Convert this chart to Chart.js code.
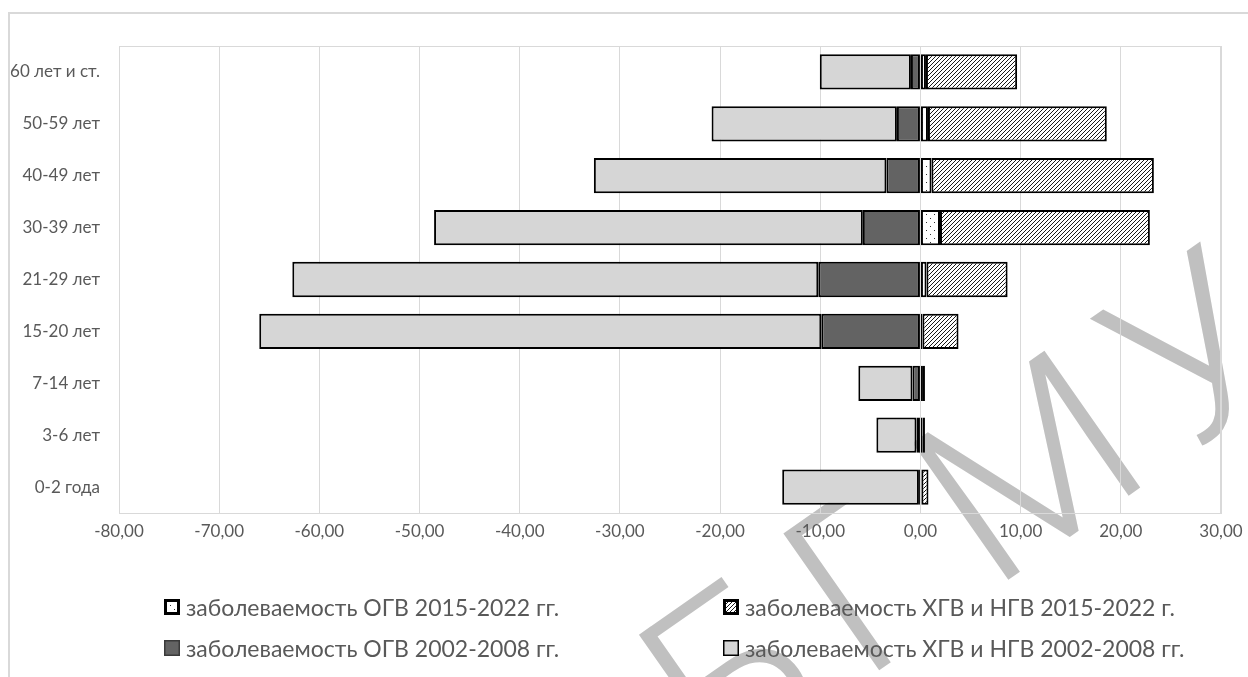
<!DOCTYPE html>
<html lang="ru">
<head>
<meta charset="utf-8">
<script src="https://cdn.jsdelivr.net/npm/chart.js@4.4.1/dist/chart.umd.min.js"></script>
<style>
  html, body { margin: 0; padding: 0; background: #fff; }
  #wrap { position: relative; width: 1248px; height: 677px; overflow: hidden; font-family: Lato, "Open Sans", sans-serif; }
  #frame { position: absolute; left: 8px; top: 12px; width: 1300px; height: 720px; border: 2px solid #d9d9d9; box-sizing: border-box; z-index: 0; }
  #stamp { position: absolute; left: 975px; top: 505px; transform: translate(-50%, -50%) rotate(-35deg);
           font: 300 235px Roboto, "DejaVu Sans", sans-serif; letter-spacing: 28px; color: #c0c0c0; white-space: nowrap; line-height: 1; z-index: 1; }
  #chart { position: absolute; left: 0; top: 0; z-index: 2; }
  .legend-item { position: absolute; display: flex; align-items: center; font-size: 23px; color: #595959; z-index: 3; white-space: nowrap; }
  .legend-item canvas { margin-right: 6px; }
</style>
</head>
<body>
<div id="wrap">
  <div id="frame"></div>
  <div id="stamp">БГМУ</div>
  <canvas id="chart" width="1248" height="677"></canvas>
  <div id="legend"></div>
</div>
<script>
"use strict";

// age groups, top to bottom
const ageGroups = ["60 лет и ст.", "50-59 лет", "40-49 лет", "30-39 лет", "21-29 лет", "15-20 лет", "7-14 лет", "3-6 лет", "0-2 года"];

// 2015-2022 (right side)
const acute2015 = [0.55, 0.75, 1.1, 1.95, 0.6, 0.2, 0.25, 0.2, 0.1];
const chronic2015 = [9.1, 17.85, 22.2, 20.95, 8.1, 3.6, 0.2, 0.25, 0.7];

// 2002-2008 (left side, negative)
const acute2002 = [-0.95, -2.35, -3.4, -5.75, -10.2, -9.9, -0.8, -0.4, -0.15];
const chronic2002 = [-9.1, -18.5, -29.2, -42.8, -52.5, -56.1, -5.4, -4.0, -13.65];

const seriesLabels = [
  "заболеваемость ОГВ 2015-2022 гг.",
  "заболеваемость ХГВ и НГВ 2015-2022 г.",
  "заболеваемость ОГВ 2002-2008 гг.",
  "заболеваемость ХГВ и НГВ 2002-2008 гг.",
];

const xMin = -80;
const xMax = 30;
const xStep = 10;

function makeTile(size, draw) {
  const c = document.createElement("canvas");
  c.width = size;
  c.height = size;
  const g = c.getContext("2d");
  g.fillStyle = "#fff";
  g.fillRect(0, 0, size, size);
  draw(g);
  return c;
}

// fine "/" hatch
const hatchTile = makeTile(4, function (g) {
  g.fillStyle = "#1a1a1a";
  for (let i = 0; i < 4; i++) {
    g.fillRect(i, 3 - i, 1, 1);
  }
});

// sparse dots
const dotTile = makeTile(8, function (g) {
  g.fillStyle = "#333";
  g.fillRect(2, 2, 1, 1);
  g.fillRect(6, 6, 1, 1);
});

const ctx = document.getElementById("chart").getContext("2d");
const hatchFill = ctx.createPattern(hatchTile, "repeat");
const dotFill = ctx.createPattern(dotTile, "repeat");

const fills = [dotFill, hatchFill, "#636363", "#d6d6d6"];
const values = [acute2015, chronic2015, acute2002, chronic2002];

const datasets = values.map(function (v, i) {
  return {
    label: seriesLabels[i],
    data: v,
    backgroundColor: fills[i],
    borderColor: "#000",
    borderWidth: 2,
    borderSkipped: false,
    categoryPercentage: 1,
    barPercentage: 0.68,
  };
});

const plotFrame = {
  id: "plotFrame",
  beforeDatasetsDraw(chart) {
    const a = chart.chartArea;
    const g = chart.ctx;
    g.save();
    g.strokeStyle = "#d9d9d9";
    g.lineWidth = 1;
    g.strokeRect(a.left + 0.5, a.top + 0.5, a.right - a.left - 1, a.bottom - a.top);
    g.restore();
  },
};

const tickFont = { family: "Lato, 'Open Sans', sans-serif", size: 17 };

new Chart(ctx, {
  type: "bar",
  data: { labels: ageGroups, datasets: datasets },
  options: {
    responsive: false,
    animation: false,
    indexAxis: "y",
    layout: { padding: { left: 0, right: 27, top: 46, bottom: 124 } },
    plugins: { legend: { display: false }, tooltip: { enabled: false } },
    scales: {
      x: {
        stacked: true,
        min: xMin,
        max: xMax,
        ticks: {
          stepSize: xStep,
          color: "#595959",
          font: tickFont,
          padding: 8,
          maxRotation: 0,
          callback: (v) => v.toFixed(2).replace(".", ","),
        },
        grid: { color: "#d9d9d9", drawTicks: false },
        border: { color: "#d9d9d9" },
        afterFit: (scale) => {
          scale.height = 40;
          scale.paddingLeft = 0;
          scale.paddingRight = 0;
        },
      },
      y: {
        stacked: true,
        ticks: {
          color: "#595959",
          font: tickFont,
          padding: 19,
        },
        grid: { display: false, drawTicks: false },
        border: { display: false },
        afterFit: (scale) => { scale.width = 119; },
      },
    },
  },
  plugins: [plotFrame],
});

// legend in two columns like the original
const legendPos = [
  { left: 164, top: 607 },
  { left: 723, top: 607 },
  { left: 164, top: 648 },
  { left: 723, top: 648 },
];
const legend = document.getElementById("legend");
seriesLabels.forEach(function (label, i) {
  const item = document.createElement("div");
  item.className = "legend-item";
  item.style.left = legendPos[i].left + "px";
  item.style.top = legendPos[i].top - 15 + "px";
  item.style.height = "30px";

  const sw = document.createElement("canvas");
  sw.width = 16;
  sw.height = 16;
  const g = sw.getContext("2d");
  g.fillStyle = i === 0 ? g.createPattern(dotTile, "repeat") : i === 1 ? g.createPattern(hatchTile, "repeat") : fills[i];
  g.fillRect(0, 0, 16, 16);
  g.strokeStyle = i === 2 ? "#3a3a3a" : "#000";
  g.lineWidth = i < 2 ? 3 : 1.5;
  const o = i < 2 ? 1.5 : 0.75;
  g.strokeRect(o, o, 16 - 2 * o, 16 - 2 * o);

  const txt = document.createElement("span");
  txt.textContent = label;
  item.appendChild(sw);
  item.appendChild(txt);
  legend.appendChild(item);
});
</script>
</body>
</html>
